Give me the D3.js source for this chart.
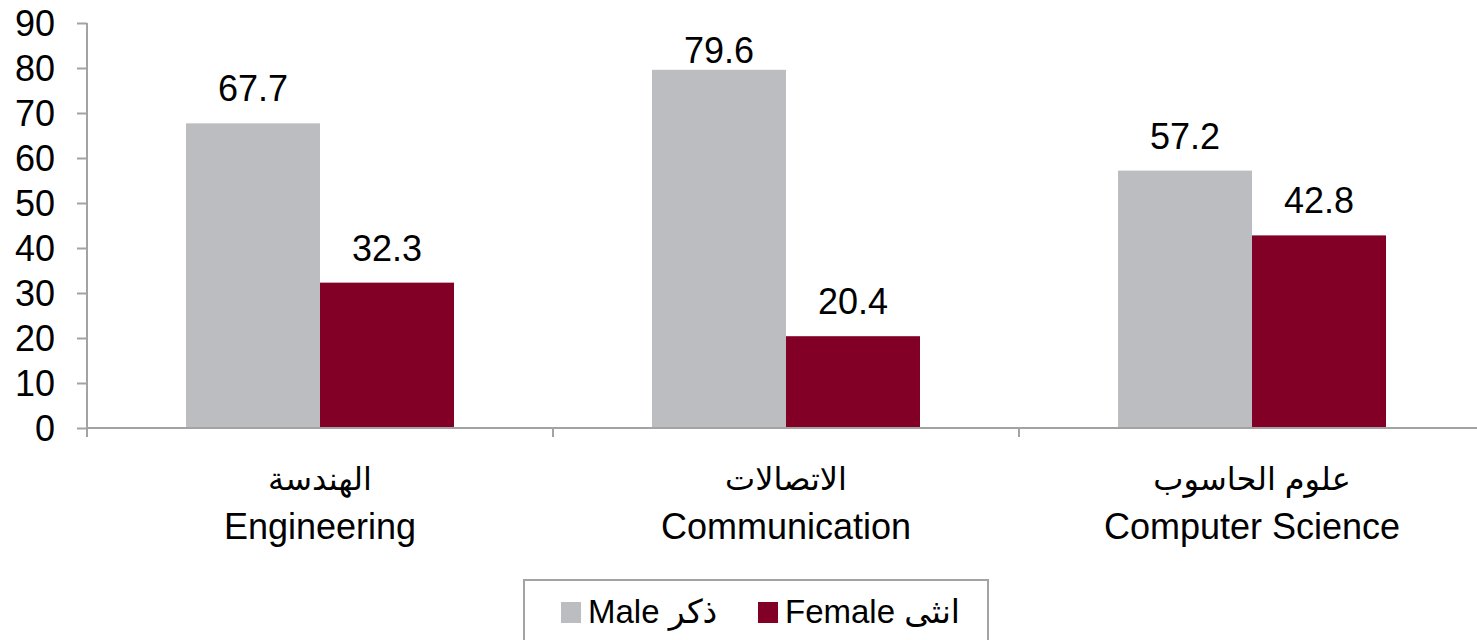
<!DOCTYPE html>
<html>
<head>
<meta charset="utf-8">
<script src="https://cdn.jsdelivr.net/npm/d3@7"></script>
<style>
  html, body { margin: 0; padding: 0; background: #fff; }
</style>
</head>
<body>
<div id="chart"></div>
<script>
// Data
const categoriesEn = ["Engineering", "Communication", "Computer Science"];
const categoriesAr = ["الهندسة", "الاتصالات", "علوم الحاسوب"];
const maleValues   = [67.7, 79.6, 57.2];
const femaleValues = [32.3, 20.4, 42.8];
const seriesKeys   = ["male", "female"];
const seriesLabels = ["Male ذكر", "Female انثى"];
const yTicks       = [0, 10, 20, 30, 40, 50, 60, 70, 80, 90];

const W = 1477, H = 640;
const FONT = "'Liberation Sans', Arial, 'DejaVu Sans', sans-serif";
const colors = { male: "#bcbdc1", female: "#820026" };
const axisColor = "#a3a3a3";

const svg = d3.select("#chart").append("svg")
    .attr("width", W)
    .attr("height", H)
    .style("display", "block")
    .style("font-family", FONT);

// ── Scales ──────────────────────────────────────────────────────────────
const plotLeft = 87, bandW = 466;
const x0 = d3.scaleBand()
    .domain(categoriesEn)
    .range([plotLeft, plotLeft + bandW * categoriesEn.length])
    .padding(0);

const x1 = d3.scaleBand()
    .domain(seriesKeys)
    .range([99, 367]);

const y = d3.scaleLinear().domain([0, 90]).range([428, 23]);

// ── Bars ────────────────────────────────────────────────────────────────
const rows = categoriesEn.map((c, i) => ({
    cat: c,
    values: [
        { key: "male",   value: maleValues[i] },
        { key: "female", value: femaleValues[i] }
    ]
}));

const groups = svg.append("g").selectAll("g")
    .data(rows)
    .join("g")
    .attr("transform", d => `translate(${x0(d.cat)},0)`);

groups.selectAll("rect")
    .data(d => d.values)
    .join("rect")
    .attr("x", d => x1(d.key))
    .attr("y", d => y(d.value))
    .attr("width", x1.bandwidth())
    .attr("height", d => y(0) - y(d.value))
    .attr("fill", d => colors[d.key]);

// value labels (pushed down when near the top of the plot)
groups.selectAll("text.val")
    .data(d => d.values)
    .join("text")
    .attr("class", "val")
    .attr("x", d => x1(d.key) + x1.bandwidth() / 2)
    .attr("y", d => Math.max(y(d.value) - 22, 63))
    .attr("text-anchor", "middle")
    .style("font-size", "36px")
    .style("fill", "#000")
    .text(d => d.value.toFixed(1));

// ── Axes ────────────────────────────────────────────────────────────────
const yAxis = svg.append("g")
    .attr("transform", `translate(${plotLeft},0)`)
    .call(d3.axisLeft(y).tickValues(yTicks).tickSize(10).tickPadding(22).tickSizeOuter(0));
yAxis.select(".domain").remove();
yAxis.selectAll("line").attr("stroke", axisColor).attr("stroke-width", 2);
yAxis.selectAll("text")
    .style("font-size", "36px")
    .style("font-family", FONT)
    .attr("fill", "#000")
    .attr("dy", "0.36em");

// vertical axis line (runs a bit below zero like the tick)
svg.append("line")
    .attr("x1", plotLeft).attr("x2", plotLeft)
    .attr("y1", y(90)).attr("y2", y(0) + 9)
    .attr("stroke", axisColor).attr("stroke-width", 2);

// horizontal axis + category boundary ticks
svg.append("line")
    .attr("x1", plotLeft).attr("x2", W)
    .attr("y1", y(0)).attr("y2", y(0))
    .attr("stroke", axisColor).attr("stroke-width", 2);

svg.append("g").selectAll("line")
    .data(categoriesEn.slice(1))
    .join("line")
    .attr("x1", d => x0(d)).attr("x2", d => x0(d))
    .attr("y1", y(0)).attr("y2", y(0) + 9)
    .attr("stroke", axisColor).attr("stroke-width", 2);

// category labels: Arabic above English
const catG = svg.append("g").selectAll("g")
    .data(categoriesEn)
    .join("g")
    .attr("transform", d => `translate(${x0(d) + x0.bandwidth() / 2},0)`);

catG.append("text")
    .attr("y", 490)
    .attr("text-anchor", "middle")
    .style("font-size", "32px")
    .text((d, i) => categoriesAr[i]);

catG.append("text")
    .attr("y", 539)
    .attr("text-anchor", "middle")
    .style("font-size", "36px")
    .text(d => d);

// ── Legend ──────────────────────────────────────────────────────────────
svg.append("rect")
    .attr("x", 524).attr("y", 580)
    .attr("width", 464).attr("height", 80)
    .attr("fill", "none")
    .attr("stroke", axisColor)
    .attr("stroke-width", 2);

const legendX = [561, 758];
const legendG = svg.append("g").selectAll("g")
    .data(seriesKeys)
    .join("g")
    .attr("transform", (d, i) => `translate(${legendX[i]},602)`);

legendG.append("rect")
    .attr("width", 20).attr("height", 21)
    .attr("fill", d => colors[d]);

legendG.append("text")
    .attr("x", 27).attr("y", 21)
    .attr("direction", "ltr")
    .style("font-size", "33px")
    .text((d, i) => seriesLabels[i]);
</script>
</body>
</html>
